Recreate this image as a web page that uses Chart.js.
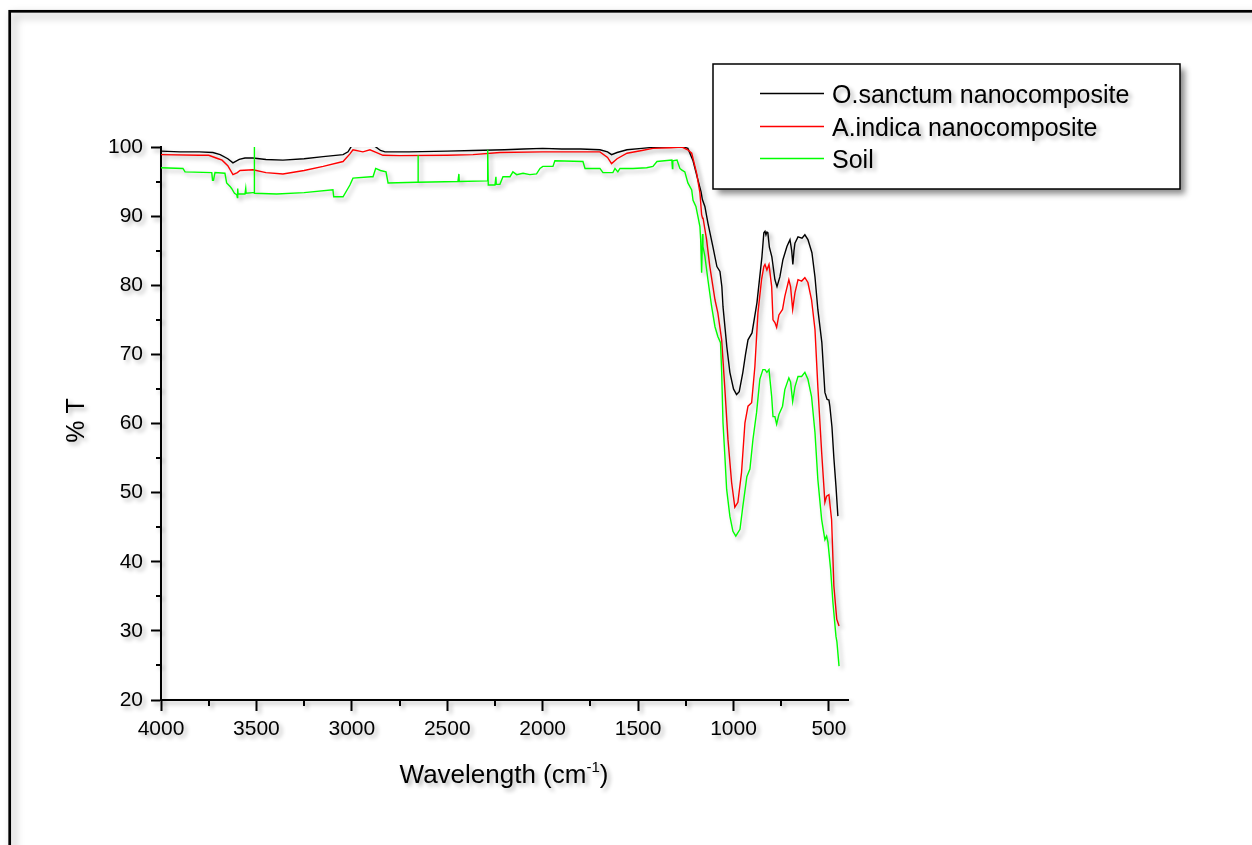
<!DOCTYPE html>
<html>
<head>
<meta charset="utf-8">
<title>FTIR spectra</title>
<script src="https://cdn.jsdelivr.net/npm/chart.js@4.4.1/dist/chart.umd.min.js"></script>
<style>
  html, body { margin: 0; padding: 0; background: #fff; }
  #wrap { width: 1252px; height: 845px; }
</style>
</head>
<body>
<div id="wrap"><canvas id="ftir" width="1252" height="845"></canvas></div>
<script>
// series labels (legend order)
const seriesLabels = ['O.sanctum nanocomposite', 'A.indica nanocomposite', 'Soil'];

// [wavenumber cm-1, %T]
const oSanctum = [
  [4000, 99.4], [3900, 99.3], [3800, 99.3], [3728, 99.2], [3690, 98.9], [3650, 98.3],
  [3623, 97.7], [3590, 98.2], [3560, 98.4], [3518, 98.4], [3450, 98.2], [3361, 98.1],
  [3250, 98.3], [3150, 98.6], [3046, 98.9], [3020, 99.3], [3000, 100.2], [2980, 100.7],
  [2900, 100.7], [2879, 100.1], [2850, 99.5], [2826, 99.3], [2700, 99.3], [2500, 99.4],
  [2365, 99.5], [2200, 99.6], [2100, 99.7], [2000, 99.8], [1900, 99.7], [1800, 99.7],
  [1700, 99.6], [1660, 99.3], [1639, 98.9], [1610, 99.2], [1558, 99.6], [1480, 99.8],
  [1422, 99.95], [1350, 100], [1260, 100], [1239, 99.8], [1213, 98.1], [1186, 95.2],
  [1170, 93.5], [1163, 92.4], [1158, 92.0], [1150, 91.4], [1134, 89.0], [1108, 85.6],
  [1087, 82.7], [1071, 82.0], [1061, 79.8], [1055, 76.9], [1035, 71.1], [1019, 67.4],
  [1000, 65.0], [984, 64.2], [970, 64.6], [951, 67.4], [937, 70.0], [924, 72.1],
  [903, 73.1], [877, 77.5], [851, 84.1], [841, 87.6], [835, 87.8], [830, 87.3],
  [825, 87.7], [820, 87.6], [812, 85.5], [799, 84.1], [783, 80.8], [772, 79.8],
  [757, 81.2], [741, 83.7], [720, 85.6], [704, 86.6], [695, 85.0], [689, 83.0],
  [683, 85.0], [678, 86.1], [662, 87.0], [641, 86.8], [626, 87.3], [610, 86.6],
  [589, 84.7], [573, 81.2], [558, 76.5], [537, 71.7], [521, 64.5], [510, 63.5],
  [500, 63.4], [495, 62.5], [484, 59.5], [474, 55.0], [463, 50.9], [453, 46.6]
];

const aIndica = [
  [4000, 98.9], [3800, 98.8], [3750, 98.8], [3700, 98.3], [3680, 98.1], [3650, 97.3],
  [3623, 96.0], [3600, 96.3], [3586, 96.6], [3518, 96.7], [3450, 96.3], [3361, 96.1],
  [3250, 96.6], [3150, 97.2], [3046, 97.9], [3010, 99.0], [2994, 99.6], [2942, 99.3],
  [2905, 99.6], [2870, 99.2], [2837, 98.8], [2750, 98.75], [2500, 98.8], [2365, 98.9],
  [2224, 99.2], [2000, 99.3], [1800, 99.3], [1700, 99.3], [1660, 98.5], [1639, 97.6],
  [1610, 98.3], [1558, 99.1], [1480, 99.5], [1422, 99.8], [1330, 99.9], [1270, 100],
  [1240, 99.6], [1219, 99.1], [1193, 96.2], [1176, 93.4], [1167, 90.2], [1162, 89.7],
  [1160, 89.8], [1141, 86.6], [1124, 82.7], [1097, 77.9], [1082, 76.0], [1062, 72.1],
  [1045, 64.9], [1029, 57.7], [1010, 51.5], [993, 47.9], [977, 48.6], [958, 52.9],
  [940, 60.1], [924, 62.5], [905, 63.0], [888, 68.2], [872, 76.0], [853, 80.8],
  [841, 82.7], [835, 83.0], [825, 82.2], [814, 83.0], [800, 79.8], [793, 75.0],
  [783, 74.6], [774, 73.9], [762, 75.7], [743, 76.5], [731, 78.4], [710, 80.8],
  [701, 79.8], [690, 76.5], [678, 78.9], [662, 80.8], [643, 80.6], [626, 81.1],
  [610, 80.4], [591, 77.9], [573, 73.6], [558, 65.3], [538, 55.8], [521, 48.6],
  [512, 49.5], [500, 49.7], [486, 46.1], [474, 36.5], [459, 31.7], [447, 30.7]
];

const soil = [
  [4000, 97.0], [3885, 96.9], [3874, 96.4], [3734, 96.3], [3730, 95.2], [3725, 95.2],
  [3717, 96.3], [3665, 96.2], [3656, 94.8], [3638, 94.3], [3630, 94.0], [3615, 93.3],
  [3603, 93.1], [3600, 92.7], [3598, 94.0], [3596, 93.2], [3560, 93.2], [3556, 94.0],
  [3554, 93.3], [3518, 93.4], [3511, 93.4], [3511, 100], [3510, 93.3], [3394, 93.2],
  [3250, 93.4], [3099, 93.8], [3095, 92.8], [3046, 92.8], [3010, 94.5], [2994, 95.5],
  [2900, 95.7], [2889, 95.7], [2875, 96.9], [2850, 96.6], [2821, 96.4], [2810, 94.8],
  [2660, 94.9], [2653, 94.9], [2653, 98.8], [2652, 94.9], [2444, 95.0], [2439, 96.1],
  [2437, 95.0], [2290, 95.1], [2288, 99.6], [2285, 94.5], [2250, 94.5], [2245, 95.7],
  [2243, 94.6], [2224, 94.6], [2208, 95.7], [2171, 95.7], [2156, 96.4], [2136, 96.0],
  [2103, 96.2], [2067, 96.0], [2032, 96.1], [2014, 96.9], [1999, 97.2], [1946, 97.2],
  [1936, 98.0], [1789, 97.9], [1778, 96.9], [1700, 96.9], [1684, 96.3], [1632, 96.3],
  [1621, 96.9], [1606, 96.4], [1595, 96.9], [1527, 96.9], [1455, 97.0], [1422, 97.2],
  [1401, 97.9], [1323, 98.1], [1320, 96.9], [1318, 98.0], [1296, 98.1], [1281, 96.9],
  [1272, 96.7], [1255, 96.4], [1239, 94.8], [1219, 93.8], [1212, 92.3], [1197, 91.4],
  [1186, 89.9], [1176, 88.5], [1172, 86.6], [1167, 81.8], [1162, 87.4], [1160, 85.6],
  [1150, 84.2], [1134, 80.8], [1115, 77.0], [1097, 74.0], [1082, 72.6], [1068, 71.7],
  [1062, 67.4], [1055, 60.1], [1045, 55.2], [1036, 50.5], [1019, 46.6], [1003, 44.4],
  [988, 43.7], [966, 44.7], [951, 48.0], [930, 52.3], [914, 53.4], [898, 57.7],
  [879, 61.6], [862, 66.4], [846, 67.8], [835, 67.8], [825, 67.4], [814, 67.8],
  [800, 63.9], [793, 61.0], [783, 61.0], [774, 59.9], [762, 61.3], [743, 62.5],
  [731, 64.9], [710, 66.6], [701, 66.0], [690, 63.2], [678, 65.3], [662, 66.8],
  [643, 66.8], [626, 67.4], [610, 66.4], [591, 63.9], [573, 58.7], [558, 51.9],
  [538, 46.1], [521, 43.2], [512, 43.7], [505, 42.8], [491, 38.9], [479, 34.1],
  [463, 29.2], [458, 28.4], [447, 24.9]
];

// axis ticks
const xMajorTicks = [4000, 3500, 3000, 2500, 2000, 1500, 1000, 500];
const xMinorTicks = [3750, 3250, 2750, 2250, 1750, 1250, 750];
const yMajorTicks = [20, 30, 40, 50, 60, 70, 80, 90, 100];
const yMinorTicks = [25, 35, 45, 55, 65, 75, 85, 95];

const FONT = '"Liberation Sans", Arial, Helvetica, sans-serif';
const colors = ['#000000', '#ff0000', '#00ff00'];

function toXY(arr) {
    return arr.map(function(p) { return { x: p[0], y: p[1] }; });
}

function setShadow(ctx, blur, off, alpha) {
    ctx.shadowColor = 'rgba(0,0,0,' + alpha + ')';
    ctx.shadowBlur = blur;
    ctx.shadowOffsetX = off;
    ctx.shadowOffsetY = off;
}

const decor = {
    id: 'decor',
    beforeDraw: function(chart) {
        var ctx = chart.ctx;
        // outer frame
        ctx.save();
        setShadow(ctx, 8, 4, 0.35);
        ctx.strokeStyle = '#000';
        ctx.lineWidth = 2.7;
        ctx.strokeRect(9.7, 11.3, 1400, 1000);
        ctx.restore();
        // soft drop shadow for everything drawn after
        setShadow(ctx, 4, 3, 0.3);
    },
    afterDraw: function(chart) {
        var ctx = chart.ctx;
        var xs = chart.scales.x, ys = chart.scales.y;
        var area = chart.chartArea;

        ctx.save();
        setShadow(ctx, 4, 3, 0.3);
        ctx.strokeStyle = '#000';
        ctx.lineWidth = 2;
        // minor ticks
        ctx.beginPath();
        xMinorTicks.forEach(function(v) {
            var px = Math.round(xs.getPixelForValue(v));
            ctx.moveTo(px, area.bottom);
            ctx.lineTo(px, area.bottom + 6);
        });
        yMinorTicks.forEach(function(v) {
            var py = Math.round(ys.getPixelForValue(v));
            ctx.moveTo(area.left, py);
            ctx.lineTo(area.left - 5, py);
        });
        ctx.stroke();

        // y title
        ctx.fillStyle = '#000';
        ctx.save();
        ctx.translate(77, (area.top + area.bottom) / 2 - 3);
        ctx.rotate(-Math.PI / 2);
        ctx.font = '25px ' + FONT;
        ctx.textAlign = 'center';
        ctx.textBaseline = 'middle';
        ctx.fillText('% T', 0, 0);
        ctx.restore();

        // x title with superscript
        var mainTxt = 'Wavelength (cm', supTxt = '-1', endTxt = ')';
        ctx.font = '26px ' + FONT;
        var w1 = ctx.measureText(mainTxt).width;
        var w3 = ctx.measureText(endTxt).width;
        ctx.font = '15px ' + FONT;
        var w2 = ctx.measureText(supTxt).width;
        var x0 = 504 - (w1 + w2 + w3) / 2, base = 783;
        ctx.textAlign = 'left';
        ctx.textBaseline = 'alphabetic';
        ctx.font = '26px ' + FONT;
        ctx.fillText(mainTxt, x0, base);
        ctx.font = '15px ' + FONT;
        ctx.fillText(supTxt, x0 + w1, base - 11);
        ctx.font = '26px ' + FONT;
        ctx.fillText(endTxt, x0 + w1 + w2, base);

        // legend box
        ctx.save();
        setShadow(ctx, 6, 5, 0.45);
        ctx.fillStyle = '#fff';
        ctx.fillRect(713, 64, 467, 125);
        ctx.restore();
        ctx.save();
        ctx.shadowColor = 'rgba(0,0,0,0)';
        ctx.strokeStyle = '#000';
        ctx.lineWidth = 1.5;
        ctx.strokeRect(713, 64, 467, 125);
        ctx.restore();

        var rows = [93, 126, 158];
        chart.data.datasets.forEach(function(ds, i) {
            ctx.save();
            ctx.shadowColor = 'rgba(0,0,0,0)';
            ctx.strokeStyle = ds.borderColor;
            ctx.lineWidth = 1.3;
            ctx.beginPath();
            ctx.moveTo(760, rows[i] + 0.5);
            ctx.lineTo(824, rows[i] + 0.5);
            ctx.stroke();
            ctx.restore();
            ctx.fillStyle = '#000';
            ctx.font = '25px ' + FONT;
            ctx.textAlign = 'left';
            ctx.textBaseline = 'alphabetic';
            ctx.fillText(ds.label, 832, rows[i] + 9.5);
        });
        ctx.restore();

        ctx.shadowColor = 'rgba(0,0,0,0)';
        ctx.shadowBlur = 0;
        ctx.shadowOffsetX = 0;
        ctx.shadowOffsetY = 0;
    }
};

var series = [oSanctum, aIndica, soil];
var ctx = document.getElementById('ftir');
var ftirChart = new Chart(ctx, {
    type: 'line',
    data: {
        datasets: series.map(function(s, i) {
            return {
                label: seriesLabels[i],
                data: toXY(s),
                borderColor: colors[i],
                borderWidth: 1.4,
                pointRadius: 0,
                tension: 0,
                fill: false,
                order: 3 - i
            };
        })
    },
    options: {
        responsive: false,
        animation: false,
        devicePixelRatio: 1,
        layout: { padding: { top: 147, right: 404, left: 0, bottom: 0 } },
        plugins: {
            legend: { display: false },
            tooltip: { enabled: false }
        },
        scales: {
            x: {
                type: 'linear',
                reverse: true,
                min: 400,
                max: 4000,
                afterBuildTicks: function(scale) {
                    scale.ticks = xMajorTicks.map(function(v) { return { value: v }; });
                },
                afterFit: function(scale) { scale.height = 145; },
                grid: { drawOnChartArea: false, drawTicks: true, tickLength: 11, tickWidth: 2, tickColor: '#000' },
                border: { display: true, color: '#000', width: 2 },
                ticks: {
                    color: '#000',
                    font: { family: FONT, size: 21 },
                    padding: 6,
                    maxRotation: 0,
                    autoSkip: false,
                    callback: function(v) { return String(v); }
                }
            },
            y: {
                min: 20,
                max: 100,
                afterBuildTicks: function(scale) {
                    scale.ticks = yMajorTicks.map(function(v) { return { value: v }; });
                },
                afterFit: function(scale) { scale.width = 161; },
                grid: { drawOnChartArea: false, drawTicks: true, tickLength: 10, tickWidth: 2, tickColor: '#000' },
                border: { display: true, color: '#000', width: 2 },
                ticks: {
                    color: '#000',
                    font: { family: FONT, size: 21 },
                    padding: 8,
                    autoSkip: false,
                    callback: function(v) { return String(v); }
                }
            }
        }
    },
    plugins: [decor]
});
</script>
</body>
</html>
